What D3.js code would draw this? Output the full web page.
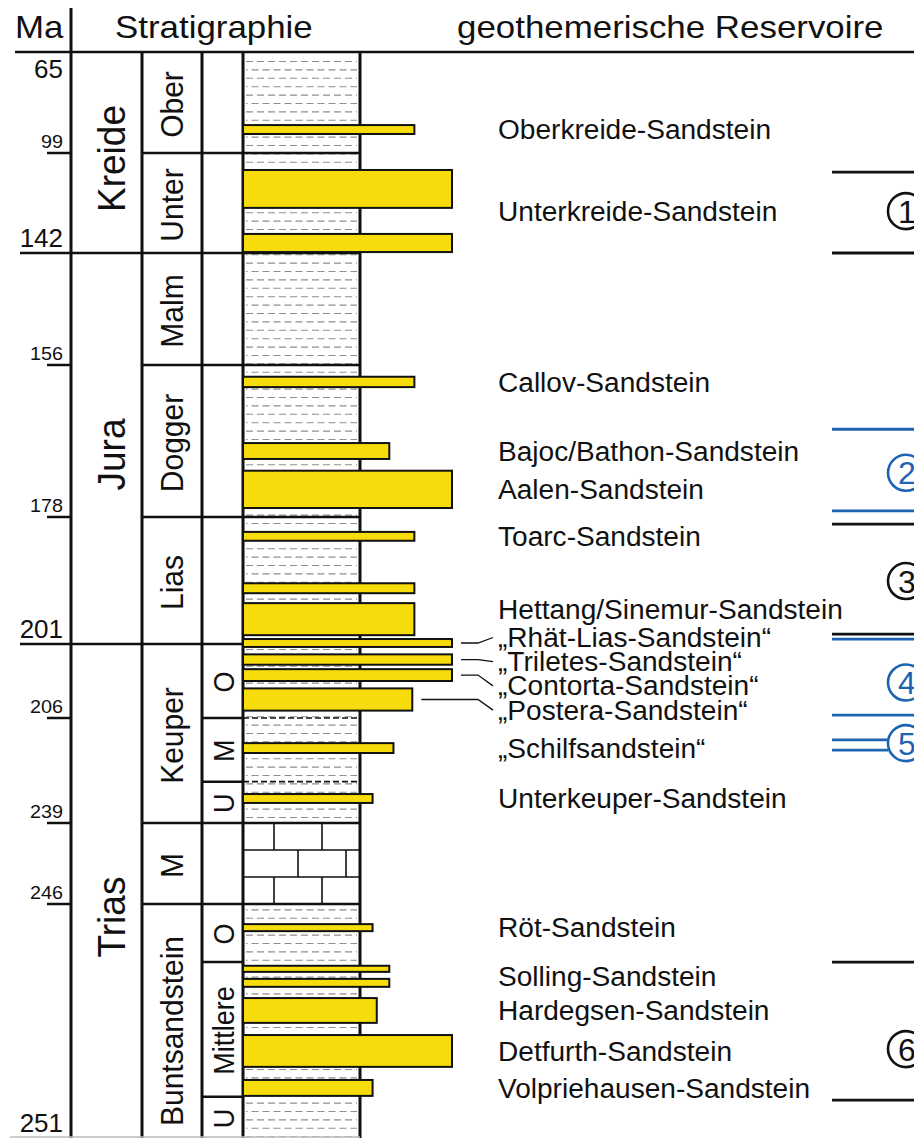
<!DOCTYPE html>
<html>
<head>
<meta charset="utf-8">
<script src="https://cdn.jsdelivr.net/npm/d3@7"></script>
<style>
  html, body { margin: 0; padding: 0; background: #fff; }
  svg { display: block; }
</style>
</head>
<body>
<svg id="chart" width="914" height="1138"></svg>
<script>
// ---------------- data ----------------
// Age boundaries (Ma) used as tick labels on the time axis
const maTicks = [65, 99, 142, 156, 178, 201, 206, 239, 246, 251];
const majorTicks = [65, 142, 201, 251];

// Stratigraphic units, top / base in Ma
const systems = [
  { name: "Kreide", top: 65, base: 142 },
  { name: "Jura", top: 142, base: 201 },
  { name: "Trias", top: 201, base: 251 }
];
const series = [
  { name: "Ober", top: 65, base: 99 },
  { name: "Unter", top: 99, base: 142 },
  { name: "Malm", top: 142, base: 156 },
  { name: "Dogger", top: 156, base: 178 },
  { name: "Lias", top: 178, base: 201 },
  { name: "Keuper", top: 201, base: 239 },
  { name: "M", top: 239, base: 246 },
  { name: "Buntsandstein", top: 246, base: 251 }
];
const subseries = [
  { name: "O", top: 201, base: 206 },
  { name: "M", top: 206, base: 226 },
  { name: "U", top: 226, base: 239 },
  { name: "O", top: 246, base: 247.24 },
  { name: "Mittlere", top: 247.24, base: 250.12 },
  { name: "U", top: 250.12, base: 251 }
];
// Muschelkalk (limestone) interval
const limestone = [{ top: 239, base: 246 }];

// Sandstone beds: age range (Ma) and relative lateral extent (0..1)
const sandstoneBeds = [
  { formation: "Oberkreide-Sandstein", top: 89.6, base: 92.6, extent: 0.82 },
  { formation: "Unterkreide-Sandstein", top: 106.3, base: 122.6, extent: 1.0 },
  { formation: "Unterkreide-Sandstein", top: 133.8, base: 141.6, extent: 1.0 },
  { formation: "Callov-Sandstein", top: 157.7, base: 159.2, extent: 0.82 },
  { formation: "Bajoc/Bathon-Sandstein", top: 167.3, base: 169.6, extent: 0.70 },
  { formation: "Aalen-Sandstein", top: 171.3, base: 176.7, extent: 1.0 },
  { formation: "Toarc-Sandstein", top: 180.7, base: 182.3, extent: 0.82 },
  { formation: "Hettang/Sinemur-Sandstein", top: 190.0, base: 191.8, extent: 0.82 },
  { formation: "Hettang/Sinemur-Sandstein", top: 193.6, base: 199.4, extent: 0.82 },
  { formation: "„Rhät-Lias-Sandstein“", top: 200.1, base: 201.2, extent: 1.0 },
  { formation: "„Triletes-Sandstein“", top: 201.7, base: 202.4, extent: 1.0 },
  { formation: "„Contorta-Sandstein“", top: 202.7, base: 203.5, extent: 1.0 },
  { formation: "„Postera-Sandstein“", top: 204.0, base: 205.5, extent: 0.81 },
  { formation: "„Schilfsandstein“", top: 213.9, base: 217.0, extent: 0.72 },
  { formation: "Unterkeuper-Sandstein", top: 229.9, base: 232.7, extent: 0.62 },
  { formation: "Röt-Sandstein", top: 246.43, base: 246.58, extent: 0.62 },
  { formation: "Solling-Sandstein", top: 247.32, base: 247.45, extent: 0.70 },
  { formation: "Solling-Sandstein", top: 247.60, base: 247.77, extent: 0.70 },
  { formation: "Hardegsen-Sandstein", top: 248.01, base: 248.54, extent: 0.64 },
  { formation: "Detfurth-Sandstein", top: 248.80, base: 249.48, extent: 1.0 },
  { formation: "Volpriehausen-Sandstein", top: 249.76, base: 250.10, extent: 0.62 }
];
// Formations whose names are stacked and tied to their beds by leader lines
const leaderFormations = [
  "„Rhät-Lias-Sandstein“", "„Triletes-Sandstein“",
  "„Contorta-Sandstein“", "„Postera-Sandstein“"
];

// Geothermal reservoir groups: range (Ma) and the age where the number sits
const reservoirs = [
  { id: 1, top: 107.2, base: 142.0, mark: 124.0 },
  { id: 2, top: 165.3, base: 177.1, mark: 171.6 },
  { id: 3, top: 179.3, base: 199.2, mark: 189.6 },
  { id: 4, top: 200.1, base: 205.8, mark: 203.6 },
  { id: 5, top: 212.9, base: 216.1, mark: 213.9 },
  { id: 6, top: 247.24, base: 250.19, mark: 249.1 }
];
const blueReservoirs = [2, 4, 5];
const openReservoirs = [5];

// ---------------- layout ----------------
const FONT = "'Liberation Sans', Arial, Helvetica, sans-serif";
const INK = "#111";
const BLUE = "#1c64b2";
const SAND = "#f7dc0c";
const COL = { ma: 15, sys: 71, ser: 142, sub: 202, lith: 243, lithR: 360, label: 498, res: 832 };
const TOP = 52, BOTTOM = 1138, WIDTH = 914;
const labelNudge = { Kreide: 6, Jura: 6, Trias: 26, Buntsandstein: 8 };

// piecewise time scale: each labelled boundary gets its own row height
const y = d3.scaleLinear()
  .domain(maTicks)
  .range([52, 153, 253, 365, 517, 644, 718, 823, 904, 1138]);
const x = d3.scaleLinear().domain([0, 1]).range([COL.lith, 452]);

const svg = d3.select("#chart");

function line(g, x1, y1, x2, y2, color = INK, w = 2.5) {
  return g.append("line")
    .attr("x1", x1).attr("y1", y1).attr("x2", x2).attr("y2", y2)
    .attr("stroke", color).attr("stroke-width", w);
}

function text(g, str, px, py, o = {}) {
  const t = `translate(${px},${py}) scale(${o.sx ?? 1.04},1)` + (o.rot ? " rotate(-90)" : "");
  return g.append("g").attr("transform", t)
    .append("text")
    .attr("text-anchor", o.anchor || "start")
    .attr("font-family", FONT)
    .attr("font-size", o.size || 27)
    .attr("fill", o.fill || INK)
    .text(str);
}

// ---------------- lithology column ----------------
const lith = svg.append("g");
const limeTop = y(limestone[0].top), limeBot = y(limestone[0].base);

// claystone / siltstone: rows of grey dashes
d3.range(61.5, BOTTOM, 8.4).forEach((ry, i) => {
  if (ry > limeTop - 3 && ry < limeBot + 3) return;
  line(lith, COL.lith + 3, ry, COL.lithR - 3, ry, "#8e8e8e", 1.1)
    .attr("stroke-dasharray", "7,4")
    .attr("stroke-dashoffset", i % 2 ? 5.5 : 0);
});

// limestone: brick pattern
limestone.forEach(l => {
  const t = y(l.top), b = y(l.base), rh = (b - t) / 3;
  lith.append("rect").attr("x", COL.lith).attr("y", t)
    .attr("width", COL.lithR - COL.lith).attr("height", b - t).attr("fill", "#fff");
  for (let r = 0; r < 3; r++) {
    const ry = t + r * rh;
    if (r > 0) line(lith, COL.lith, ry, COL.lithR, ry, INK, 1.6);
    const off = r % 2 ? 55 : 31;
    for (let vx = COL.lith + off; vx < COL.lithR - 4; vx += 48) {
      line(lith, vx, ry, vx, ry + rh, INK, 1.6);
    }
  }
});

// ---------------- frame and boundaries ----------------
const frame = svg.append("g").attr("stroke-linecap", "butt");
line(frame, COL.sys, 8, COL.sys, BOTTOM, INK, 3);
[COL.ser, COL.sub, COL.lith, COL.lithR].forEach(cx => line(frame, cx, TOP, cx, BOTTOM, INK, 3));
line(frame, COL.ma, TOP, WIDTH, TOP, INK, 2.6);
line(frame, 10, BOTTOM - 1, COL.lithR, BOTTOM - 1, "#bbb", 1.5);

// series boundaries cross series, subseries and lithology columns
series.slice(0, -1).forEach(s => line(frame, COL.ser, y(s.base), COL.lithR, y(s.base)));
// system boundaries also run through the system column and the age column
systems.slice(0, -1).forEach(s => line(frame, 20, y(s.base), COL.ser, y(s.base)));
// short ticks for the remaining ages
maTicks.filter(m => !majorTicks.includes(m)).forEach(m => line(frame, 47, y(m), COL.sys, y(m)));
// subseries boundaries
subseries.filter(s => s.base !== 251 && s.base !== 239).forEach(s => {
  line(frame, COL.sub, y(s.base), COL.lith, y(s.base));
  if (s.base < 239) {
    line(frame, COL.lith, y(s.base), COL.lithR, y(s.base), INK, 1.6).attr("stroke-dasharray", "6,3");
  }
});

// ---------------- sandstone beds ----------------
svg.append("g").selectAll("rect")
  .data(sandstoneBeds)
  .join("rect")
  .attr("x", COL.lith)
  .attr("y", d => y(d.top))
  .attr("width", d => x(d.extent) - COL.lith)
  .attr("height", d => y(d.base) - y(d.top))
  .attr("fill", SAND)
  .attr("stroke", INK)
  .attr("stroke-width", 2);

// ---------------- texts ----------------
const txt = svg.append("g");
text(txt, "Ma", COL.ma, 38, { size: 32, sx: 1.09 });
text(txt, "Stratigraphie", 115, 38, { size: 32, sx: 1.09 });
text(txt, "geothemerische Reservoire", 457, 38, { size: 32, sx: 1.09 });

maTicks.forEach(m => {
  const major = majorTicks.includes(m);
  const py = m === maTicks[0] ? y(m) + 26 : y(m) - (major ? 6 : 5);
  text(txt, String(m), 63, py, { size: major ? 25 : 19, anchor: "end" });
});

const mid = (d) => (y(d.top) + y(d.base)) / 2 + (labelNudge[d.name] || 0);
systems.forEach(d => text(txt, d.name, 125, mid(d), { size: 37, rot: true, anchor: "middle", sx: 1.06 }));
series.forEach(d => text(txt, d.name, 183, mid(d) + 2, { size: 30, rot: true, anchor: "middle", sx: 1.06 }));
subseries.forEach(d => text(txt, d.name, 234, mid(d) + 1, { size: 27, rot: true, anchor: "middle", sx: 1.06 }));

// formation labels, centred on their beds
const groups = d3.groups(sandstoneBeds, d => d.formation);
const leaders = svg.append("g").attr("fill", "none").attr("stroke", INK).attr("stroke-width", 1.3);
let stackY = null;
groups.forEach(([name, beds]) => {
  const top = y(d3.min(beds, b => b.top)), bot = y(d3.max(beds, b => b.base));
  let cy = (top + bot) / 2;
  const li = leaderFormations.indexOf(name);
  if (li >= 0) {
    if (stackY === null) stackY = cy - 5.5;
    const ly = stackY + li * 24.2;
    const sx = x(beds[0].extent) + 9;
    leaders.append("path").attr("d", `M${sx},${cy}H478L493,${ly}`);
    cy = ly;
  }
  text(txt, name, COL.label, cy + 9.6, { size: 27 });
});

// ---------------- reservoir brackets ----------------
const res = svg.append("g");
const CX = 906, R = 18;
reservoirs.forEach(r => {
  const col = blueReservoirs.includes(r.id) ? BLUE : INK;
  const xEnd = openReservoirs.includes(r.id) ? CX - R : WIDTH;
  [r.top, r.base].forEach(v => line(res, COL.res, y(v), xEnd, y(v), col, 2.8));
  const cy = y(r.mark);
  res.append("circle").attr("cx", CX).attr("cy", cy).attr("r", R)
    .attr("fill", "#fff").attr("stroke", col).attr("stroke-width", 2.6);
  res.append("text").attr("x", CX + 1).attr("y", cy + 11.5)
    .attr("text-anchor", "middle").attr("font-family", FONT)
    .attr("font-size", 32).attr("fill", col).text(r.id);
});
</script>
</body>
</html>
